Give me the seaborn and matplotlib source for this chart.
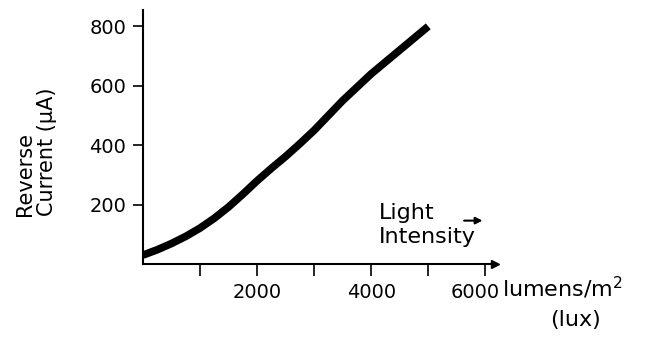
import matplotlib
matplotlib.use("Agg")
import matplotlib.pyplot as plt
import matplotlib.transforms as mtransforms
import seaborn as sns
import pandas as pd

# Data
light_lux = [0, 250, 500, 750, 1000, 1250, 1500, 1750, 2000, 2250, 2500,
             2750, 3000, 3250, 3500, 3750, 4000, 4250, 4500, 4750, 5000]
reverse_current_uA = [30, 48, 69, 93, 121, 154, 192, 235, 280, 322, 362,
                      405, 450, 500, 550, 595, 640, 680, 720, 760, 800]
x_ticks = [1000, 2000, 3000, 4000, 5000, 6000]
x_tick_labels = ["", "2000", "", "4000", "", "6000"]
y_ticks = [200, 400, 600, 800]
y_tick_labels = ["200", "400", "600", "800"]

df = pd.DataFrame({"lux": light_lux, "current": reverse_current_uA})

sns.set_style("white")
plt.rcParams["font.family"] = ["DejaVu Sans"]
plt.rcParams["text.color"] = "black"

fig = plt.figure(figsize=(6.59, 3.39), dpi=100)
ax = fig.add_axes([143 / 659, 1 - 264 / 339, (495 - 143) / 659, (264 - 10) / 339])

sns.lineplot(data=df, x="lux", y="current", ax=ax, color="black",
             linewidth=5.5, solid_capstyle="butt")

ax.set_xlim(0, 6170)
ax.set_ylim(0, 855)
ax.set_xticks(x_ticks)
ax.set_xticklabels(x_tick_labels)
ax.set_yticks(y_ticks)
ax.set_yticklabels(y_tick_labels)
ax.set_xlabel("")
ax.set_ylabel("")

sns.despine(ax=ax)
for s in ["left", "bottom"]:
    ax.spines[s].set_linewidth(1.5)
    ax.spines[s].set_color("black")

ax.tick_params(axis="x", direction="out", length=8.5, width=1.2, pad=5,
               labelsize=14, colors="black", bottom=True)
ax.tick_params(axis="y", direction="out", length=7, width=1.2, pad=5,
               labelsize=14, colors="black", left=True)

# shift the last tick label left, as in the reference
last = ax.get_xticklabels()[-1]
last.set_transform(last.get_transform() +
                   mtransforms.ScaledTranslation(-0.10, 0, fig.dpi_scale_trans))

# arrowhead at the end of x axis
ax.plot(1, 0, ">", color="black", markersize=6, transform=ax.transAxes,
        clip_on=False)

# Light Intensity annotation
ax.text(4140, 153, "Light", fontsize=16, ha="left", va="baseline")
ax.text(4140, 72, "Intensity", fontsize=16, ha="left", va="baseline")
ax.annotate("", xy=(6000, 146), xytext=(5580, 146),
            arrowprops=dict(arrowstyle="-|>", lw=1.5, color="black",
                            mutation_scale=10))

# units label
fig.text(502 / 659, 1 - 297 / 339, "lumens/m$^2$", fontsize=16,
         ha="left", va="baseline")
fig.text(575 / 659, 1 - 326 / 339, "(lux)", fontsize=16,
         ha="center", va="baseline")

# y label
fig.text(36 / 659, 1 - 216 / 339, "Reverse\nCurrent (µA)", fontsize=15,
         rotation=90, ha="center", va="bottom", multialignment="left",
         linespacing=1.1)

fig.savefig("out.png", dpi=100)
